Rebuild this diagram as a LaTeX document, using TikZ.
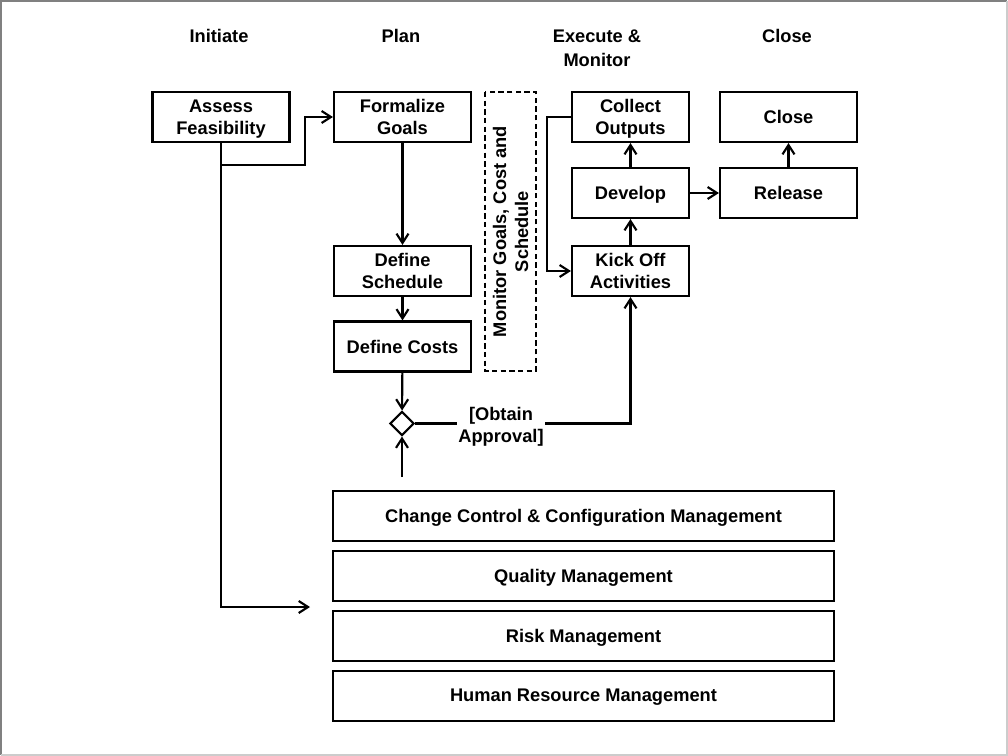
\documentclass[tikz,border=0pt]{standalone}
\usepackage{fontspec}
\setmainfont{Liberation Sans}
\usetikzlibrary{positioning,arrows.meta,shapes.geometric}

\begin{document}
\begin{tikzpicture}[
    x=0.75pt, y=-0.75pt,
    node distance=5.8pt and 0.8cm,
    block/.style={rectangle, draw, line width=1.6pt, minimum width=102.75pt, minimum height=37.5pt, align=center, inner sep=2pt, text depth=0pt, font=\fontsize{13.7}{16.5}\selectfont\bfseries},
    narrow block/.style={block, minimum width=87.75pt},
    band/.style={block, minimum width=375.75pt},
    phase/.style={align=center, text depth=0pt, font=\fontsize{13.7}{18}\selectfont\bfseries},
    link/.style={line width=1.6pt},
    >={Straight Barb[length=7pt,width=9pt]}
  ]

  \useasboundingbox (0,0) rectangle (1008,756);
  \draw[line width=1.5pt, black!50] (1,755) -- (1,1) -- (1007,1);
  \draw[line width=1.5pt, black!20] (1007,1) -- (1007,755) -- (1,755);

  % phase headings
  \node[phase] (initiate) at (219,36) {Initiate};
  \node[phase] (plan) at (401,36) {Plan};
  \node[phase] (execute) at (597,48) {Execute \&\\Monitor};
  \node[phase] (closing) at (787,36) {Close};

  % activities
  \node[block] (assess) at (221,117) {Assess\\Feasibility};
  \node[block] (formal) at (402.5,117) {Formalize\\Goals};
  \node[block] (schedule) at (402.5,271) {Define\\Schedule};
  \node[block] (costs) at (402.5,346.5) {Define Costs};
  \node[narrow block] (collect) at (630.5,117) {Collect\\Outputs};
  \node[narrow block] (develop) at (630.5,193) {Develop};
  \node[narrow block] (kickoff) at (630.5,271) {Kick Off\\Activities};
  \node[block] (close) at (788.5,117) {Close};
  \node[block] (release) at (788.5,193) {Release};

  \node[draw, line width=1.6pt, dash pattern=on 4pt off 2.5pt, rotate=90, minimum width=209.25pt, minimum height=38.25pt, align=center, inner sep=1pt, text depth=0pt, font=\fontsize{13.7}{16.5}\selectfont\bfseries] (monitor) at (510.5,231.5) {Monitor Goals, Cost and\\Schedule};

  \node[diamond, draw, line width=1.6pt, minimum width=18pt, minimum height=18pt, inner sep=0pt] (approve) at (402,423.5) {};
  \node[align=center, inner sep=1pt, text depth=0pt, font=\fontsize{13.7}{16.5}\selectfont\bfseries] (obtain) at (501,424.5) {[Obtain\\Approval]};

  % management areas
  \node[band] (change) at (583.5,516) {Change Control \& Configuration Management};
  \node[band, below=of change] (quality) {Quality Management};
  \node[band, below=of quality] (risk) {Risk Management};
  \node[band, below=of risk] (hr) {Human Resource Management};

  \coordinate (fork) at (221,165);
  \coordinate (bend) at (305,117);
  \coordinate (qualityin) at (310,607);
  \coordinate (feed) at (402,477);

  % flow
  \draw[link,->] (assess.south) |- (qualityin);
  \draw[link,->] (fork) -| (bend) -- (formal.west);
  \draw[link,->] (formal) -- (schedule);
  \draw[link,->] (schedule) -- (costs);
  \draw[link,->] (costs) -- (approve);
  \draw[link,->] (feed) -- (approve);
  \draw[link] (approve.east) -- (obtain.west |- approve.east);
  \draw[link,->] (obtain.east |- approve.east) -| (kickoff.south);
  \draw[link,->] (kickoff) -- (develop);
  \draw[link,->] (develop) -- (collect);
  \draw[link,->] (develop) -- (release);
  \draw[link,->] (release) -- (close);
  \draw[link,->] (collect.west) -- ++(-24,0) |- (kickoff.west);

\end{tikzpicture}
\end{document}
